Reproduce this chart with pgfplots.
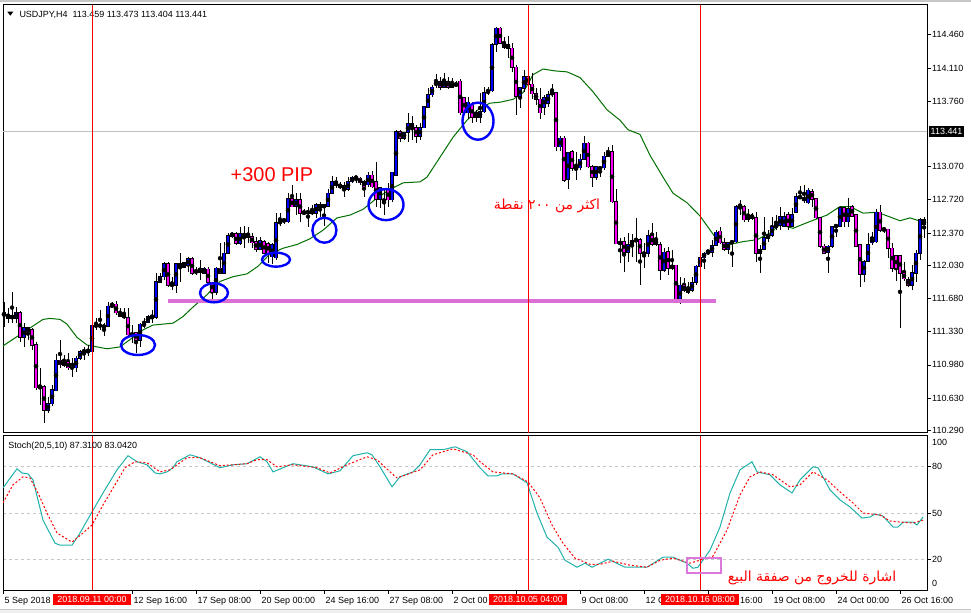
\documentclass[border=0pt]{standalone}
\usepackage{fontspec}
\setmainfont{Liberation Sans}
\newfontfamily\arabicfont[Script=Arabic]{DejaVu Sans}
\TeXXeTstate=1
\usepackage{pgfplots}
\usepackage{pgfplotstable}
\pgfplotsset{compat=1.18}

\definecolor{bullblue}{RGB}{0,0,255}
\definecolor{bearmag}{RGB}{255,0,255}
\definecolor{magline}{RGB}{218,112,214}
\definecolor{magreen}{RGB}{0,110,0}
\definecolor{stochmain}{RGB}{32,178,170}
\definecolor{pinkbox}{RGB}{220,120,220}
\definecolor{pricegray}{RGB}{192,192,192}

% USDJPY H4 candles: bar index, open, high, low, close
\pgfplotstableread{
k o h l c
2 111.53 111.64 111.38 111.50
3 111.51 111.58 111.42 111.47
4 111.50 111.75 111.42 111.47
5 111.47 111.59 111.42 111.53
6 111.53 111.55 111.22 111.27
7 111.27 111.42 111.17 111.37
8 111.37 111.38 111.24 111.33
9 111.35 111.37 111.14 111.19
10 111.19 111.22 110.72 110.74
11 110.75 110.95 110.56 110.74
12 110.75 110.77 110.37 110.50
13 110.50 110.64 110.47 110.57
14 110.57 110.77 110.55 110.72
15 110.71 111.10 110.70 111.03
16 111.03 111.24 110.95 110.98
17 110.98 111.09 110.96 111.01
18 111.01 111.11 110.93 110.95
19 111.00 111.05 110.85 110.96
20 110.95 111.08 110.91 111.05
21 111.05 111.14 111.03 111.12
22 111.12 111.17 111.03 111.13
23 111.13 111.19 111.07 111.12
24 111.12 111.42 111.10 111.40
25 111.39 111.48 111.35 111.40
26 111.40 111.56 111.35 111.39
27 111.39 111.42 111.28 111.38
28 111.39 111.64 111.38 111.60
29 111.60 111.64 111.59 111.61
30 111.62 111.65 111.51 111.53
31 111.53 111.58 111.48 111.49
32 111.51 111.58 111.46 111.48
33 111.48 111.58 111.28 111.30
34 111.30 111.40 111.21 111.29
35 111.32 111.33 111.11 111.24
36 111.24 111.42 111.17 111.41
37 111.40 111.48 111.37 111.41
38 111.43 111.51 111.42 111.49
39 111.50 111.56 111.42 111.47
40 111.48 111.95 111.46 111.86
41 111.85 111.95 111.84 111.91
42 111.91 112.07 111.88 112.05
43 112.05 112.07 111.80 111.82
44 111.82 111.91 111.77 111.83
45 111.82 112.06 111.74 112.05
46 112.05 112.16 111.86 112.01
47 112.01 112.07 112.00 112.06
48 112.03 112.12 111.96 112.10
49 112.10 112.12 111.93 111.95
50 111.97 112.01 111.93 111.96
51 112.00 112.09 111.88 111.96
52 111.95 112.01 111.94 112.00
53 111.99 112.01 111.82 111.85
54 111.85 111.86 111.65 111.75
55 111.75 112.01 111.72 112.00
56 112.00 112.27 111.94 111.95
57 111.95 112.28 111.94 112.16
58 112.16 112.37 112.15 112.34
59 112.37 112.38 112.32 112.34
60 112.36 112.38 112.24 112.26
61 112.26 112.44 112.25 112.36
62 112.36 112.44 112.21 112.34
63 112.37 112.44 112.27 112.33
64 112.33 112.37 112.21 112.27
65 112.28 112.33 112.17 112.20
66 112.20 112.33 112.19 112.29
67 112.28 112.30 112.15 112.16
68 112.26 112.28 112.06 112.16
69 112.12 112.27 112.04 112.25
70 112.11 112.58 112.09 112.48
71 112.48 112.58 112.45 112.49
72 112.50 112.53 112.47 112.51
73 112.49 112.79 112.48 112.73
74 112.73 112.88 112.64 112.65
75 112.65 112.79 112.56 112.72
76 112.72 112.79 112.49 112.58
77 112.59 112.62 112.56 112.58
78 112.60 112.65 112.44 112.58
79 112.60 112.67 112.56 112.58
80 112.58 112.69 112.53 112.67
81 112.67 112.70 112.54 112.64
82 112.67 112.67 112.44 112.64
83 112.65 112.83 112.64 112.79
84 112.79 112.97 112.78 112.91
85 112.91 112.96 112.85 112.87
86 112.87 112.91 112.83 112.86
87 112.87 112.91 112.75 112.83
88 112.83 112.96 112.81 112.91
89 112.91 112.97 112.90 112.96
90 112.96 112.98 112.90 112.95
91 112.95 112.96 112.88 112.90
92 112.91 112.93 112.75 112.86
93 112.88 113.01 112.86 112.98
94 112.98 113.02 112.85 112.86
95 112.91 113.12 112.64 112.73
96 112.73 112.86 112.64 112.85
97 112.72 112.83 112.56 112.71
98 112.83 112.90 112.65 112.72
99 112.72 113.02 112.70 113.01
100 112.98 113.46 112.97 113.44
101 113.44 113.46 113.33 113.37
102 113.37 113.44 113.35 113.43
103 113.43 113.64 113.33 113.52
104 113.52 113.60 113.35 113.48
105 113.48 113.51 113.32 113.39
106 113.39 113.53 113.35 113.48
107 113.48 113.71 113.48 113.70
108 113.70 113.90 113.69 113.83
109 113.83 113.93 113.81 113.91
110 113.94 114.05 113.90 113.95
111 113.97 114.02 113.88 113.91
112 113.91 114.06 113.90 113.97
113 113.97 114.02 113.89 113.91
114 113.95 114.01 113.90 113.91
115 113.94 113.97 113.91 113.93
116 113.97 113.99 113.62 113.64
117 113.80 113.81 113.61 113.64
118 113.64 113.81 113.57 113.75
119 113.72 113.75 113.53 113.59
120 113.59 113.67 113.54 113.64
121 113.59 113.85 113.53 113.65
122 113.65 113.91 113.64 113.85
123 113.85 113.91 113.83 113.87
124 113.87 114.38 113.86 114.36
125 114.36 114.54 114.28 114.53
126 114.53 114.54 114.36 114.37
127 114.38 114.44 114.31 114.33
128 114.36 114.45 114.22 114.32
129 114.32 114.37 114.07 114.12
130 114.12 114.14 113.62 113.81
131 113.81 113.91 113.69 113.90
132 113.90 114.09 113.86 114.02
133 114.02 114.11 113.86 113.94
134 113.94 114.06 113.78 113.84
135 113.84 113.90 113.72 113.78
136 113.78 113.90 113.57 113.64
137 113.70 113.83 113.62 113.80
138 113.74 113.87 113.70 113.83
139 113.83 113.94 113.81 113.86
140 113.85 113.86 113.24 113.28
141 113.28 113.39 113.24 113.37
142 113.37 113.39 112.91 112.93
143 112.94 113.23 112.83 113.22
144 113.23 113.25 113.02 113.05
145 113.04 113.23 112.93 113.06
146 113.06 113.20 113.04 113.15
147 113.15 113.39 113.14 113.32
148 113.32 113.33 113.06 113.07
149 113.07 113.09 112.86 112.96
150 112.96 113.08 112.93 113.07
151 113.06 113.08 112.96 113.05
152 113.06 113.23 113.04 113.18
153 113.22 113.28 113.17 113.18
154 113.23 113.30 112.69 112.70
155 112.70 112.83 112.25 112.26
156 112.27 112.32 112.06 112.26
157 112.28 112.33 111.96 112.17
158 112.17 112.37 112.07 112.25
159 112.25 112.36 112.12 112.29
160 112.30 112.53 112.07 112.29
161 112.30 112.32 111.82 112.16
162 112.16 112.27 112.00 112.15
163 112.16 112.40 112.12 112.34
164 112.34 112.48 112.23 112.25
165 112.30 112.38 112.23 112.25
166 112.25 112.28 111.88 111.98
167 111.98 112.21 111.96 112.17
168 112.17 112.22 111.93 112.00
169 112.00 112.19 111.98 112.03
170 112.03 112.03 111.63 111.65
171 111.65 111.91 111.62 111.82
172 111.82 111.90 111.75 111.77
173 111.79 111.85 111.73 111.75
174 111.77 111.91 111.75 111.85
175 111.85 112.03 111.82 112.02
176 112.02 112.17 112.01 112.11
177 112.11 112.17 111.99 112.16
178 112.17 112.19 112.14 112.18
179 112.17 112.30 112.12 112.24
180 112.24 112.40 112.23 112.38
181 112.39 112.43 112.25 112.27
182 112.27 112.32 112.18 112.20
183 112.20 112.28 112.15 112.27
184 112.27 112.30 112.01 112.28
185 112.28 112.67 112.27 112.65
186 112.65 112.72 112.56 112.67
187 112.65 112.67 112.49 112.51
188 112.51 112.62 112.49 112.55
189 112.56 112.58 112.51 112.53
190 112.53 112.59 112.07 112.16
191 112.16 112.25 111.95 112.20
192 112.20 112.54 112.19 112.32
193 112.31 112.40 112.28 112.35
194 112.35 112.54 112.33 112.44
195 112.46 112.56 112.40 112.43
196 112.45 112.65 112.40 112.54
197 112.44 112.59 112.43 112.54
198 112.56 112.59 112.40 112.44
199 112.44 112.64 112.43 112.56
200 112.59 112.79 112.58 112.75
201 112.76 112.87 112.73 112.74
202 112.72 112.88 112.69 112.74
203 112.69 112.85 112.68 112.82
204 112.81 112.84 112.64 112.73
205 112.73 112.74 112.52 112.53
206 112.53 112.54 112.21 112.23
207 112.23 112.25 112.15 112.16
208 112.17 112.25 111.95 112.23
209 112.23 112.45 112.21 112.44
210 112.44 112.46 112.33 112.45
211 112.44 112.66 112.43 112.64
212 112.64 112.65 112.43 112.49
213 112.49 112.74 112.43 112.63
214 112.65 112.67 112.54 112.55
215 112.56 112.56 112.23 112.23
216 112.25 112.25 111.80 111.94
217 111.94 112.09 111.85 112.07
218 112.07 112.37 112.06 112.25
219 112.27 112.38 112.25 112.32
220 112.28 112.62 112.27 112.59
221 112.59 112.67 112.38 112.40
222 112.42 112.44 112.37 112.40
223 112.41 112.41 112.11 112.21
224 112.21 112.27 111.96 112.00
225 112.13 112.14 111.86 112.00
226 112.13 112.13 111.37 111.95
227 111.95 112.06 111.86 111.89
228 111.88 111.91 111.80 111.82
229 111.82 112.03 111.77 111.95
230 111.95 112.19 111.86 112.16
231 112.16 112.53 112.09 112.51
232 112.51 112.54 112.32 112.46
}\candles

% moving average (green)
\pgfplotstableread{
k p
1.75 111.18
6 111.30
9.25 111.39
11.75 111.46
13.5 111.47
16 111.46
17.75 111.41
20.25 111.27
22.75 111.19
25.25 111.17
27.75 111.15
31 111.17
34.25 111.27
36.75 111.35
39.25 111.40
44.25 111.42
46.75 111.49
49.25 111.59
52.75 111.72
56 111.86
59.25 111.91
62.75 111.94
65.5 112.02
68.5 112.15
71.75 112.21
75.25 112.25
78.5 112.31
81.75 112.40
85.25 112.53
88.5 112.56
91.75 112.62
95.25 112.74
98.5 112.83
101.75 112.90
106 112.91
107.75 112.96
111 113.17
114.25 113.38
117.75 113.56
121 113.69
123.5 113.74
126 113.75
129.25 113.78
131.75 113.85
134.25 114.04
136.75 114.10
139.75 114.08
142.75 114.07
146 114.01
149.25 113.86
152.75 113.67
156 113.56
158 113.46
161 113.41
163.5 113.19
166.75 112.96
169.25 112.79
172.75 112.69
176 112.55
179.75 112.33
181.75 112.27
183.5 112.25
186.75 112.28
190.25 112.30
193.5 112.37
196 112.46
199.25 112.42
202.75 112.48
207.75 112.56
211 112.65
213.5 112.65
216.75 112.58
220.25 112.59
223.5 112.54
226 112.50
228.5 112.53
231.5 112.49
}\ma

% stochastic main line
\pgfplotstableread{
k v
1.75 66.3
5.25 78.7
6.5 76
8 75.4
9.25 71.5
11.75 45.4
14.75 30.4
16 29.1
19 29.1
21 37
24 50.7
26.75 63
30.25 78
33 87.2
35.25 83.3
37.75 81.3
39.75 76
41 75.4
42.75 76.7
44.25 79.4
45.25 83.3
48.5 87.8
51 85.9
56 79.4
59.25 81.3
62.75 82
66 86.5
67.75 83.3
69.25 76.7
71.75 79.4
74.25 82
79.25 80
83 75.4
86 77.4
89.25 87.2
92.75 89.1
94 87.8
96 80
99 67
101 73.5
104.25 76.7
106 81.3
108.5 91.1
111.75 91.1
114.75 93
117.75 89.8
121 79.4
123 74.1
125.25 74.1
126.5 75.4
129.25 75.4
132.75 69.6
135.25 50
137.75 34.3
140.5 27.8
142.25 19.3
145.25 14.8
147.25 17.4
149 14.8
153 20
157.25 14.8
162.75 14.8
166.75 21.3
169.25 21.3
172.75 17.4
174.25 14.1
175.5 14.8
178.5 25.9
181 40.9
183.5 63
186 78
189 83.3
190.25 76.7
193.5 74.8
196 68.3
199 63
201 71.5
204.25 80
205.5 79.4
208.5 65
211 58.5
213.5 53.9
216.5 46.7
218.5 47.4
219.75 49.3
221.75 48
224.25 40.9
225.5 40.9
226.75 44.1
229.25 44.1
230.25 42.2
231.75 47.4
}\stomain

% stochastic signal line
\pgfplotstableread{
k v
1.75 56.5
4.25 68.3
6.75 73.5
8.5 72.8
10.5 63
12.75 50
15.25 37
19 31.1
21.75 37
24 42.2
26.75 55.2
29.75 68.3
32.25 79.4
34.75 83.3
37.75 82.6
41 76.7
43.5 78
47.75 85.9
51 85.9
56 80.7
62.75 82
65.25 84.6
67.75 84.6
70.25 80
74.25 81.3
80.25 79.4
83.5 76
87.75 81.3
92.75 86.5
95.25 84.6
98.5 76.7
100.25 72.8
106 78
109.25 87.8
114.25 91.7
119.25 87.8
121 83.3
124.25 76.7
129.25 75.4
133 70.2
136 59.8
139 42.2
141.75 30.4
144.75 20.7
148.5 16.7
151 16.7
154.25 18.7
158.5 16.1
162.75 14.8
166 19.3
169.25 20.7
173.5 17.4
179.25 22
182.75 38.9
186 61.7
188.5 73.5
191 76.7
194.25 74.8
198.5 67
201 68.3
204.25 76.7
207.75 71.5
211 63.7
214.25 56.5
216.75 50
221 48.7
223.5 44.8
226 44.1
229.25 43.5
231.75 45.4
}\stosig

\tikzset{mtfont/.style={font=\fontsize{9}{10}\selectfont}}
\pgfplotsset{
  candle/.style={only marks, mark=none,
    error bars/.cd, y dir=both, y explicit, error mark=none,
    error bar style={#1}},
}
\newcommand{\datelab}[2]{\node[anchor=base west, inner sep=0pt, mtfont]
    at ([xshift=1.5bp, yshift=-13.3bp]axis cs:#1,0) {#2};}
\newcommand{\redlab}[2]{\node[fill=red, text=white, inner xsep=4bp, inner ysep=2.2bp,
    text height=6.6bp, text depth=0pt, mtfont]
    at ([yshift=-9.5bp]axis cs:#1,0) {#2};}

\begin{document}
\begin{tikzpicture}
\useasboundingbox (0,0) rectangle (971bp,613bp);
\fill[gray!45] (0,611bp) rectangle (971bp,613bp);
\fill[gray!12] (0,0) rectangle (971bp,3bp);
\draw[gray!45, line width=0.8bp] (0,3.5bp) -- (971bp,3.5bp);

% title of the price window
\fill (7.3bp,601.3bp) -- (13.3bp,601.3bp) -- (10.3bp,597.3bp) -- cycle;
\node[anchor=base west, inner sep=0pt, mtfont]
  at (19.3bp,595.7bp) {USDJPY,H4\ \ 113.459 113.473 113.404 113.441};

\begin{axis}[
  at={(3bp,180bp)}, anchor=south west,
  width=924bp, height=428bp, scale only axis,
  xmin=1.75, xmax=232.75, ymin=110.262, ymax=114.775,
  axis line style={line width=1bp},
  xtick=\empty,
  ytick={110.29,110.63,110.98,111.33,111.68,112.03,112.37,112.72,113.07,113.76,114.11,114.46},
  ytick pos=right, yticklabel pos=right,
  tick align=outside, major tick length=4bp,
  tick style={black, line width=0.8bp},
  yticklabel style={mtfont, inner sep=1pt,
    /pgf/number format/.cd, fixed, fixed zerofill, precision=3, assume math mode=true},
  clip mode=individual,
]
\draw[pricegray, line width=1bp] (axis cs:1.75,113.441) -- (axis cs:232.75,113.441);

\addplot[magreen, line width=1bp, mark=none] table[x=k, y=p] {\ma};

% wicks
\addplot[candle={black, line width=1bp}] table[x=k,
  y expr={(\thisrow{h}+\thisrow{l})/2},
  y error expr={(\thisrow{h}-\thisrow{l})/2}] {\candles};
% body outlines
\addplot[candle={black, line width=4bp, line cap=butt}] table[x=k,
  y expr={(\thisrow{o}+\thisrow{c})/2},
  y error expr={abs(\thisrow{c}-\thisrow{o})/2+0.006}] {\candles};
% bullish bodies
\addplot[restrict expr to domain={\thisrow{c}-\thisrow{o}}{0:10},
  candle={bullblue, line width=2.9bp, line cap=butt}] table[x=k,
  y expr={(\thisrow{o}+\thisrow{c})/2},
  y error expr={max(abs(\thisrow{c}-\thisrow{o})/2-0.001,0)}] {\candles};
% bearish bodies
\addplot[restrict expr to domain={\thisrow{c}-\thisrow{o}}{-10:-0.001},
  candle={bearmag, line width=2.9bp, line cap=butt}] table[x=k,
  y expr={(\thisrow{o}+\thisrow{c})/2},
  y error expr={max(abs(\thisrow{c}-\thisrow{o})/2-0.001,0)}] {\candles};

\draw[magline, line width=4bp] (axis cs:43,111.651) -- (axis cs:180,111.651);

\draw[red, line width=1bp] (axis cs:24,110.262) -- (axis cs:24,114.775);
\draw[red, line width=1bp] (axis cs:133,110.262) -- (axis cs:133,114.775);
\draw[red, line width=1bp] (axis cs:176,110.262) -- (axis cs:176,114.775);

\draw[bullblue, line width=2.4bp] (axis cs:35.5,111.19) ellipse [x radius=17bp, y radius=10bp];
\draw[bullblue, line width=2.4bp] (axis cs:54.5,111.74) ellipse [x radius=14bp, y radius=9.5bp];
\draw[bullblue, line width=2.4bp] (axis cs:70,112.09) ellipse [x radius=14bp, y radius=7bp];
\draw[bullblue, line width=2.4bp] (axis cs:82.1,112.40) ellipse [x radius=12bp, y radius=12.5bp];
\draw[bullblue, line width=2.4bp] (axis cs:97.5,112.67) ellipse [x radius=17.5bp, y radius=15.5bp];
\draw[bullblue, line width=2.4bp] (axis cs:120.5,113.55) ellipse [x radius=15.5bp, y radius=18.5bp];

\node[fill=black, text=white, anchor=west, inner xsep=2bp, inner ysep=2.2bp,
  text height=6.6bp, text depth=0pt, mtfont]
  at ([xshift=1.5bp]axis cs:232.75,113.441) {113.441};
\end{axis}

\begin{axis}[
  at={(3bp,23bp)}, anchor=south west,
  width=924bp, height=154bp, scale only axis,
  xmin=1.75, xmax=232.75, ymin=0, ymax=100,
  axis line style={line width=1bp},
  xtick={1.75,34,50,66,82,98,114,130,146,162,178,194,210,226},
  xticklabels=\empty, xtick pos=left,
  ytick={20,50,80}, ytick pos=right, yticklabel pos=right,
  tick align=outside, major tick length=4bp,
  tick style={black, line width=0.8bp},
  ymajorgrids, grid style={gray!45, line width=0.8bp, dash pattern=on 3bp off 3bp},
  yticklabel style={mtfont, inner sep=1pt, /pgf/number format/assume math mode=true},
  clip mode=individual,
]
\addplot[stochmain, line width=1bp, mark=none] table[x=k, y=v] {\stomain};
\addplot[red, line width=1bp, mark=none, dash pattern=on 2bp off 2bp] table[x=k, y=v] {\stosig};

\draw[red, line width=1bp] (axis cs:24,0) -- (axis cs:24,100);
\draw[red, line width=1bp] (axis cs:133,0) -- (axis cs:133,100);
\draw[red, line width=1bp] (axis cs:176,0) -- (axis cs:176,100);

\draw[pinkbox, line width=1.5bp] (axis cs:172.75,10.9) rectangle (axis cs:181.25,20.7);

% date scale (labels partly covered by the red markers show only their visible part)
\datelab{1.75}{5 Sep 2018}
\datelab{34}{12 Sep 16:00}
\datelab{50}{17 Sep 08:00}
\datelab{66}{20 Sep 00:00}
\datelab{82}{24 Sep 16:00}
\datelab{98}{27 Sep 08:00}
\datelab{114}{2 Oct 00}
\datelab{146}{9 Oct 08:00}
\datelab{162}{12 O}
\datelab{194}{19 Oct 08:00}
\datelab{210}{24 Oct 00:00}
\datelab{226}{26 Oct 16:00}
\node[anchor=base west, inner sep=0pt, mtfont]
  at ([xshift=40bp, yshift=-13.3bp]axis cs:176,0) {16:00};

\redlab{24}{2018.09.11 00:00}
\redlab{133}{2018.10.05 04:00}
\redlab{176}{2018.10.16 08:00}
\end{axis}

\node[anchor=base west, inner sep=0pt, mtfont]
  at (8.3bp,164.5bp) {Stoch(20,5,10) 87.3100 83.0420};
\node[anchor=west, inner sep=0pt, mtfont] at (932bp,171bp) {100};
\node[anchor=west, inner sep=0pt, mtfont] at (932bp,30bp) {0};

\node[red, font=\fontsize{20}{22}\selectfont, inner sep=0pt] at (272bp,438.5bp) {+300 PIP};
\node[red, font=\fontsize{14}{16}\selectfont\arabicfont, inner sep=0pt] at (547bp,407bp)
  {\beginR اكثر من ٢٠٠ نقطة\endR};
\node[red, font=\fontsize{14}{16}\selectfont\arabicfont, inner sep=0pt] at (812bp,35bp)
  {\beginR اشارة للخروج من صفقة البيع\endR};
\end{tikzpicture}
\end{document}
